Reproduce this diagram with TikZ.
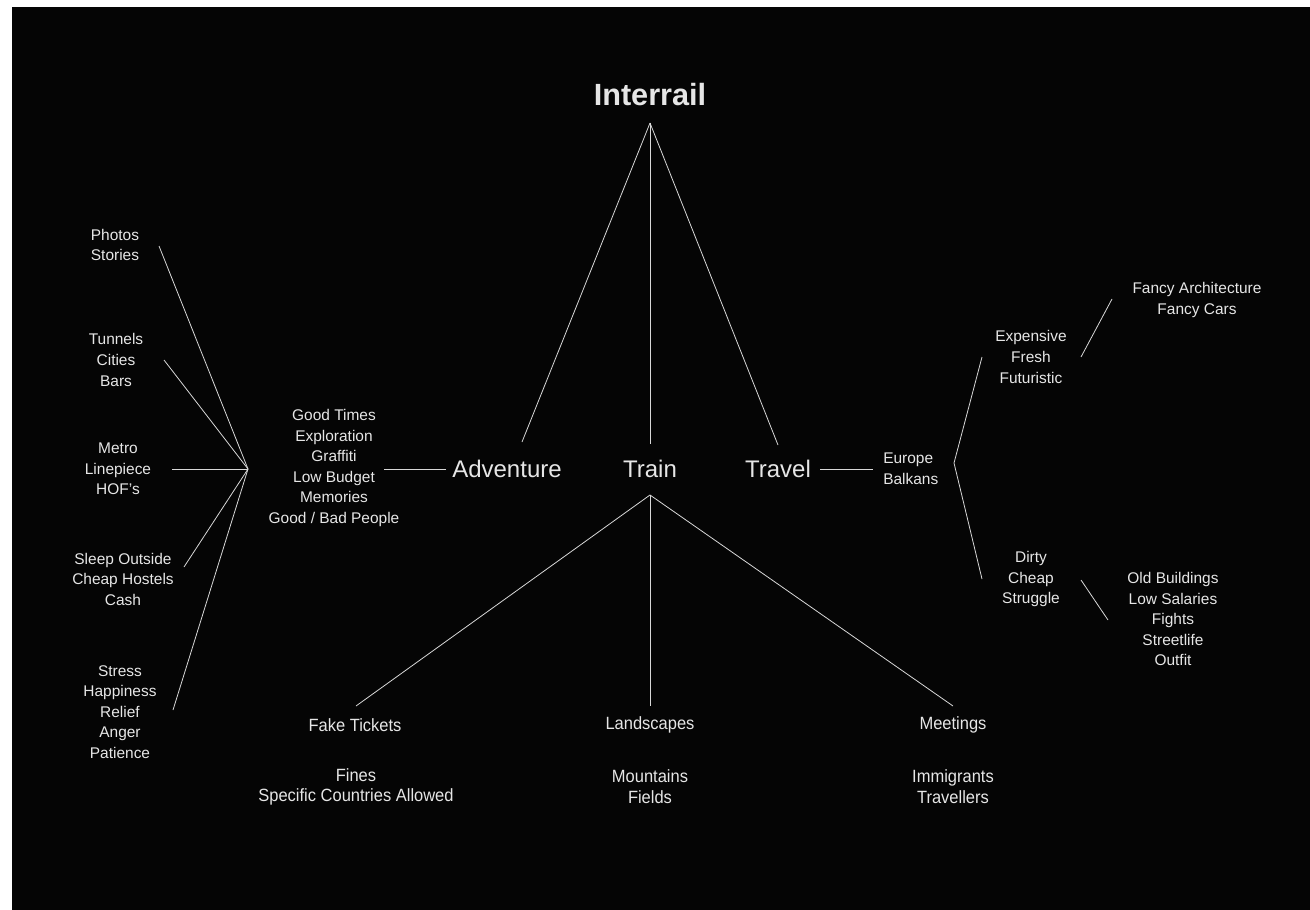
\documentclass[tikz,border=0pt]{standalone}
\usepackage{fontspec}
\setmainfont{Liberation Sans}
\newfontfamily\condfont[FakeStretch=0.93]{Liberation Sans}
\definecolor{txt}{HTML}{E6E6E6}
\definecolor{ln}{HTML}{D8D8D8}
\begin{document}
\begin{tikzpicture}[x=0.75pt,y=-0.75pt,
  small/.style={text=txt,font=\fontsize{11.6}{15.4}\selectfont,align=center,inner sep=0pt},
  cond/.style={text=txt,font=\condfont\fontsize{13.3}{15.6}\selectfont,align=center,inner sep=0pt},
  big/.style={text=txt,font=\fontsize{18}{20}\selectfont,inner sep=0pt},
  conn/.style={draw=ln,line width=0.6pt}]
\useasboundingbox (0,0) rectangle (1310,910);
\fill[white] (0,0) rectangle (1310,910);
\fill[black!98] (12,7) rectangle (1310,910);

% main nodes
\node[text=txt,font=\bfseries\fontsize{23}{26}\selectfont,inner sep=0pt] (interrail) at (650,95) {Interrail};
\node[big] (adv) at (507,469) {Adventure};
\node[big] (train) at (650,469) {Train};
\node[big] (travel) at (778,469) {Travel};

% left blocks
\node[small] (good) at (334,468) {Good Times\\Exploration\\Graffiti\\Low Budget\\Memories\\Good / Bad People};
\node[small] (photos) at (115,245) {Photos\\Stories};
\node[small] (tunnels) at (116,360) {Tunnels\\Cities\\Bars};
\node[small] (metro) at (118,469) {Metro\\Linepiece\\HOF's};
\node[small] (sleep) at (123,579) {Sleep Outside\\Cheap Hostels\\Cash};
\node[small] (stress) at (120,712) {Stress\\Happiness\\Relief\\Anger\\Patience};

% right blocks
\node[small,align=left,anchor=west] (europe) at (883,469) {Europe\\Balkans};
\node[small] (expensive) at (1031,357) {Expensive\\Fresh\\Futuristic};
\node[small] (fancy) at (1197,300) {Fancy Architecture\\Fancy Cars};
\node[small] (dirty) at (1031,579) {Dirty\\Cheap\\Struggle};
\node[small] (old) at (1173,619) {Old Buildings\\Low Salaries\\Fights\\Streetlife\\Outfit};

% bottom blocks
\node[cond] (fake) at (355,725) {Fake Tickets};
\node[cond] (fines) at (356,787) {Fines\\Specific Countries Allowed};
\node[cond] (land) at (650,725) {Landscapes};
\node[cond] (mount) at (650,787) {Mountains\\Fields};
\node[cond] (meet) at (953,725) {Meetings};
\node[cond] (immi) at (953,787) {Immigrants\\Travellers};

% connector end points
\coordinate (iA) at (650,123);
\coordinate (advT) at (522,442);
\coordinate (trainT) at (650,444);
\coordinate (travelT) at (778,445);
\coordinate (trainB) at (650,495);
\coordinate (fakeT) at (356,706);
\coordinate (landT) at (650,706);
\coordinate (meetT) at (953,706);
\coordinate (advL) at (446,469);
\coordinate (goodR) at (384,469);
\coordinate (hub) at (248,469);
\coordinate (photosR) at (159,246);
\coordinate (tunnelsR) at (164,360);
\coordinate (metroR) at (172,469);
\coordinate (sleepR) at (184,567);
\coordinate (stressR) at (173,710);
\coordinate (travelR) at (820,469);
\coordinate (europeL) at (873,469);
\coordinate (brT) at (982,357);
\coordinate (brM) at (954,463);
\coordinate (brB) at (982,579);
\coordinate (expR) at (1081,357);
\coordinate (fancyL) at (1112,299);
\coordinate (dirtyR) at (1081,580);
\coordinate (oldL) at (1108,620);

\draw[conn] (iA) -- (advT);
\draw[conn] (iA) -- (trainT);
\draw[conn] (iA) -- (travelT);
\draw[conn] (trainB) -- (fakeT);
\draw[conn] (trainB) -- (landT);
\draw[conn] (trainB) -- (meetT);
\draw[conn] (advL) -- (goodR);
\draw[conn] (hub) -- (photosR);
\draw[conn] (hub) -- (tunnelsR);
\draw[conn] (hub) -- (metroR);
\draw[conn] (hub) -- (sleepR);
\draw[conn] (hub) -- (stressR);
\draw[conn] (travelR) -- (europeL);
\draw[conn] (brT) -- (brM) -- (brB);
\draw[conn] (expR) -- (fancyL);
\draw[conn] (dirtyR) -- (oldL);
\end{tikzpicture}
\end{document}
